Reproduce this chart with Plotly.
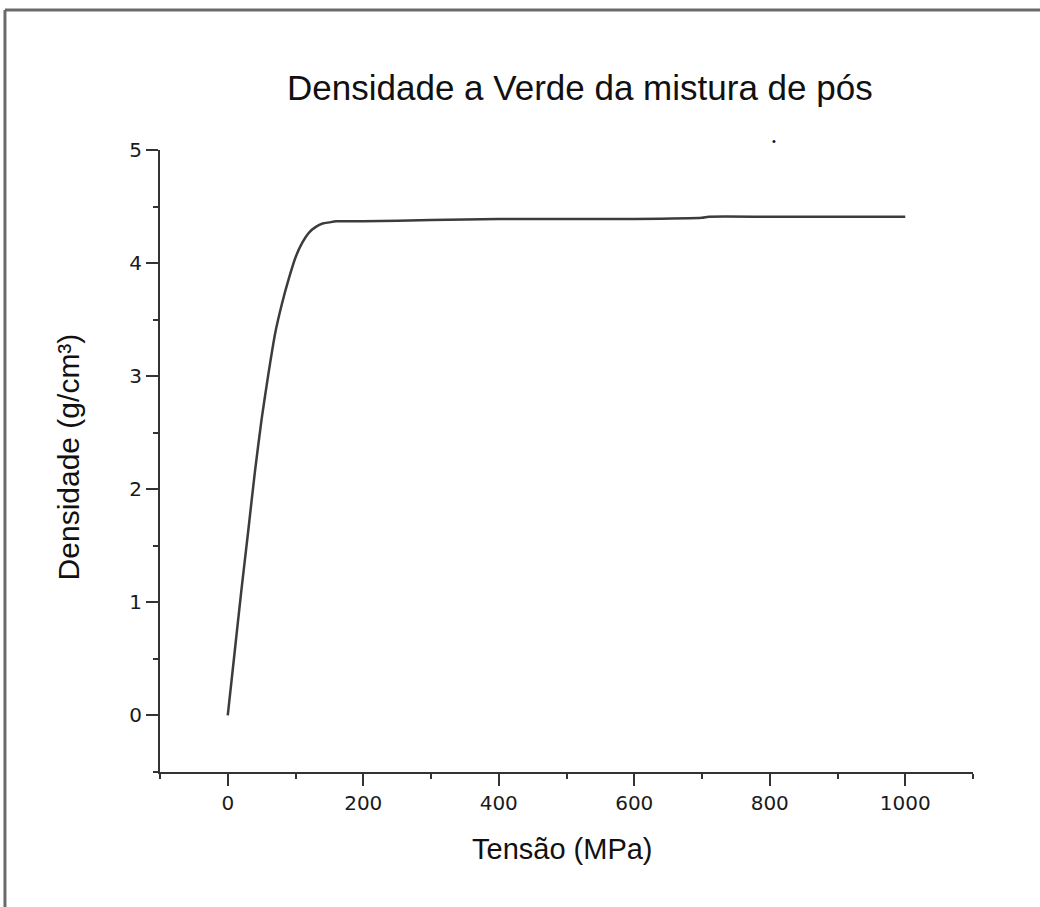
import plotly.graph_objects as go

# Data
tensao = [0, 10, 20, 30, 40, 50, 60, 70, 80, 90, 100, 110, 120, 130, 140, 150, 160,
          200, 300, 400, 500, 600, 700, 710, 800, 900, 1000]
densidade = [0.0, 0.55, 1.10, 1.62, 2.15, 2.62, 3.02, 3.38, 3.64, 3.86, 4.05, 4.18, 4.27,
             4.32, 4.35, 4.36, 4.37, 4.37, 4.38, 4.39, 4.39, 4.39, 4.40, 4.41, 4.41, 4.41, 4.41]

# small stray speck just above the top of the y axis, at about x = 806
stray_x = [806]

x_ticks = [0, 200, 400, 600, 800, 1000]
y_ticks = [0, 1, 2, 3, 4, 5]

title_text = "Densidade a Verde da mistura de pós"
x_title = "Tensão (MPa)"
y_title = "Densidade (g/cm³)"

FONT = "Liberation Sans, Arial, sans-serif"
TICKFONT = "DejaVu Sans, Liberation Sans, sans-serif"

fig = go.Figure()
fig.add_trace(go.Scatter(x=tensao, y=densidade, mode="lines",
                         line=dict(color="#3c3c3c", width=2.5, shape="spline", smoothing=0.6),
                         showlegend=False, hoverinfo="x+y"))

axis_common = dict(showgrid=False, zeroline=False, showline=True, linecolor="#333333",
                   linewidth=2, ticks="outside", ticklen=12, tickwidth=2, tickcolor="#333333",
                   tickfont=dict(family=TICKFONT, size=20, color="#1a1a1a"))

fig.update_xaxes(range=[-100, 1100], tickvals=x_ticks, ticktext=[str(v) for v in x_ticks],
                 minor=dict(dtick=100, tick0=0, ticks="outside", ticklen=5, tickwidth=2,
                            tickcolor="#333333"),
                 **axis_common)
fig.update_yaxes(range=[-0.5, 5], tickvals=y_ticks, ticktext=[str(v) for v in y_ticks],
                 minor=dict(dtick=0.5, tick0=0, ticks="outside", ticklen=5, tickwidth=2,
                            tickcolor="#333333"),
                 **axis_common)

shapes = [
    dict(type="line", xref="paper", yref="paper", x0=-0.1907, x1=1.0824, y0=1.2251, y1=1.2251,
         line=dict(color="#6a6a6a", width=3)),
    dict(type="line", xref="paper", yref="paper", x0=-0.1907, x1=-0.1907, y0=1.2251, y1=-0.217,
         line=dict(color="#6a6a6a", width=3)),
]

annotations = [
    dict(text=title_text, xref="paper", yref="paper", x=0.516, y=1.0997,
         xanchor="center", yanchor="middle", showarrow=False,
         font=dict(family=FONT, size=35, color="#111111")),
    dict(text=x_title, xref="paper", yref="paper", x=0.4945, y=-0.1238,
         xanchor="center", yanchor="middle", showarrow=False,
         font=dict(family=FONT, size=29, color="#111111")),
    dict(text=y_title, xref="paper", yref="paper", x=-0.113, y=0.506,
         xanchor="center", yanchor="middle", showarrow=False, textangle=-90,
         font=dict(family=FONT, size=30, color="#111111")),
]
for sx in stray_x:
    annotations.append(dict(text="•", xref="x", yref="y", x=sx, y=y_ticks[-1],
                            xanchor="center", yanchor="middle", showarrow=False, yshift=9,
                            font=dict(family=FONT, size=11, color="#111111")))

fig.update_layout(
    width=1040, height=907,
    margin=dict(l=160, r=67, t=150, b=135),
    paper_bgcolor="white", plot_bgcolor="white",
    annotations=annotations,
    shapes=shapes,
)

fig.write_html("out.html")
